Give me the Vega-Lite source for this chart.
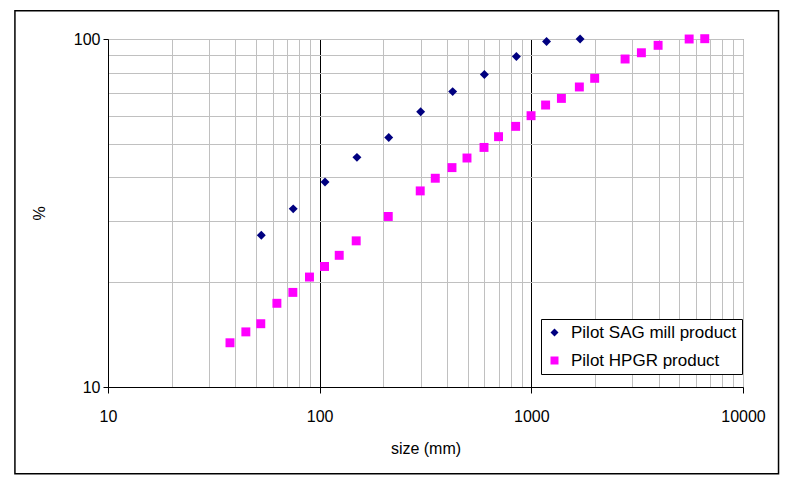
{
  "$schema": "https://vega.github.io/schema/vega-lite/v6.json",
  "width": 635,
  "height": 348,
  "autosize": "none",
  "padding": {"left": 108, "top": 39, "right": 47, "bottom": 95},
  "background": "white",
  "config": {
    "font": "Liberation Sans",
    "view": {"stroke": "#808080", "strokeWidth": 1}
  },
  "layer": [
    {
      "data": {
        "values": [
          {"series": "Pilot SAG mill product", "size": 53, "pct": 27.3},
          {"series": "Pilot SAG mill product", "size": 75, "pct": 32.5},
          {"series": "Pilot SAG mill product", "size": 106, "pct": 38.8},
          {"series": "Pilot SAG mill product", "size": 150, "pct": 45.7},
          {"series": "Pilot SAG mill product", "size": 212, "pct": 52.1},
          {"series": "Pilot SAG mill product", "size": 300, "pct": 61.8},
          {"series": "Pilot SAG mill product", "size": 425, "pct": 70.6},
          {"series": "Pilot SAG mill product", "size": 600, "pct": 79.1},
          {"series": "Pilot SAG mill product", "size": 850, "pct": 89.1},
          {"series": "Pilot SAG mill product", "size": 1180, "pct": 98.4},
          {"series": "Pilot SAG mill product", "size": 1700, "pct": 100},
          {"series": "Pilot HPGR product", "size": 37.7, "pct": 13.4},
          {"series": "Pilot HPGR product", "size": 44.8, "pct": 14.4},
          {"series": "Pilot HPGR product", "size": 52.7, "pct": 15.2},
          {"series": "Pilot HPGR product", "size": 62.8, "pct": 17.4},
          {"series": "Pilot HPGR product", "size": 74.7, "pct": 18.7},
          {"series": "Pilot HPGR product", "size": 89.5, "pct": 20.7},
          {"series": "Pilot HPGR product", "size": 105.4, "pct": 22.2},
          {"series": "Pilot HPGR product", "size": 123.7, "pct": 23.9},
          {"series": "Pilot HPGR product", "size": 148.8, "pct": 26.3},
          {"series": "Pilot HPGR product", "size": 210.9, "pct": 30.9},
          {"series": "Pilot HPGR product", "size": 298.6, "pct": 36.6},
          {"series": "Pilot HPGR product", "size": 351.7, "pct": 39.8},
          {"series": "Pilot HPGR product", "size": 421.8, "pct": 42.7},
          {"series": "Pilot HPGR product", "size": 496.6, "pct": 45.5},
          {"series": "Pilot HPGR product", "size": 597.6, "pct": 48.8},
          {"series": "Pilot HPGR product", "size": 700, "pct": 52.4},
          {"series": "Pilot HPGR product", "size": 843, "pct": 56.1},
          {"series": "Pilot HPGR product", "size": 997, "pct": 60.2},
          {"series": "Pilot HPGR product", "size": 1168, "pct": 64.6},
          {"series": "Pilot HPGR product", "size": 1387, "pct": 67.5},
          {"series": "Pilot HPGR product", "size": 1686, "pct": 72.8},
          {"series": "Pilot HPGR product", "size": 1992, "pct": 77.1},
          {"series": "Pilot HPGR product", "size": 2773, "pct": 87.6},
          {"series": "Pilot HPGR product", "size": 3311, "pct": 91.3},
          {"series": "Pilot HPGR product", "size": 3971, "pct": 95.9},
          {"series": "Pilot HPGR product", "size": 5567, "pct": 100},
          {"series": "Pilot HPGR product", "size": 6596, "pct": 100.2}
        ]
      },
      "mark": {"type": "point", "filled": true, "opacity": 1},
      "encoding": {
        "x": {
          "field": "size",
          "type": "quantitative",
          "scale": {"type": "log", "domain": [10, 10000], "nice": false},
          "axis": {
            "title": "size (mm)",
            "values": [10, 20, 30, 40, 50, 60, 70, 80, 90, 100, 200, 300, 400, 500, 600, 700, 800, 900, 1000, 2000, 3000, 4000, 5000, 6000, 7000, 8000, 9000, 10000],
            "labelExpr": "(datum.value == 10 || datum.value == 100 || datum.value == 1000 || datum.value == 10000) ? format(datum.value, 'd') : ''",
            "grid": true,
            "gridColor": {"condition": {"test": "datum.value == 100 || datum.value == 1000", "value": "#000000"}, "value": "#c0c0c0"},
            "gridWidth": 1,
            "tickColor": {"condition": {"test": "datum.value == 10 || datum.value == 100 || datum.value == 1000 || datum.value == 10000", "value": "#000000"}, "value": "transparent"},
            "tickSize": 6,
            "domainColor": "#000000",
            "labelColor": "#000000",
            "labelFontSize": 16,
            "labelPadding": 15,
            "labelOverlap": false,
            "labelFlush": false,
            "titleFontSize": 16,
            "titleFontWeight": "normal",
            "titleColor": "#000000",
            "titlePadding": 16
          }
        },
        "y": {
          "field": "pct",
          "type": "quantitative",
          "scale": {"type": "log", "domain": [10, 100], "nice": false},
          "axis": {
            "title": "%",
            "values": [10, 20, 30, 40, 50, 60, 70, 80, 90, 100],
            "labelExpr": "(datum.value == 10 || datum.value == 100) ? format(datum.value, 'd') : ''",
            "grid": true,
            "gridColor": "#c0c0c0",
            "tickColor": {"condition": {"test": "datum.value == 10 || datum.value == 100", "value": "#000000"}, "value": "transparent"},
            "tickSize": 5,
            "domainColor": "#000000",
            "labelColor": "#000000",
            "labelFontSize": 16,
            "labelPadding": 3,
            "labelOverlap": false,
            "labelFlush": false,
            "titleFontSize": 16,
            "titleFontWeight": "normal",
            "titleColor": "#000000",
            "titlePadding": 26
          }
        },
        "color": {
          "field": "series",
          "type": "nominal",
          "scale": {"domain": ["Pilot SAG mill product", "Pilot HPGR product"], "range": ["#000080", "#ff00ff"]},
          "legend": {
            "title": null,
            "orient": "none",
            "legendX": 433,
            "legendY": 280,
            "strokeColor": "#000000",
            "fillColor": "white",
            "padding": 5,
            "labelFontSize": 17,
            "labelLimit": 400,
            "labelColor": "#000000",
            "labelOffset": 8,
            "rowPadding": 10,
            "symbolSize": 64
          }
        },
        "shape": {
          "field": "series",
          "type": "nominal",
          "scale": {"domain": ["Pilot SAG mill product", "Pilot HPGR product"], "range": ["diamond", "square"]},
          "legend": {
            "title": null,
            "orient": "none",
            "legendX": 433,
            "legendY": 280,
            "strokeColor": "#000000",
            "fillColor": "white",
            "padding": 5,
            "labelFontSize": 17,
            "labelLimit": 400,
            "labelColor": "#000000",
            "labelOffset": 8,
            "rowPadding": 10,
            "symbolSize": 64
          }
        },
        "size": {"value": 80}
      }
    },
    {
      "data": {"values": [{"frame": "border"}]},
      "mark": {"type": "rect", "fill": null, "stroke": "#000000", "strokeWidth": 1.5, "clip": false},
      "encoding": {
        "x": {"datum": 3.633, "type": "quantitative"},
        "x2": {"datum": 14718},
        "y": {"datum": 5.636, "type": "quantitative"},
        "y2": {"datum": 120.6}
      }
    }
  ]
}
